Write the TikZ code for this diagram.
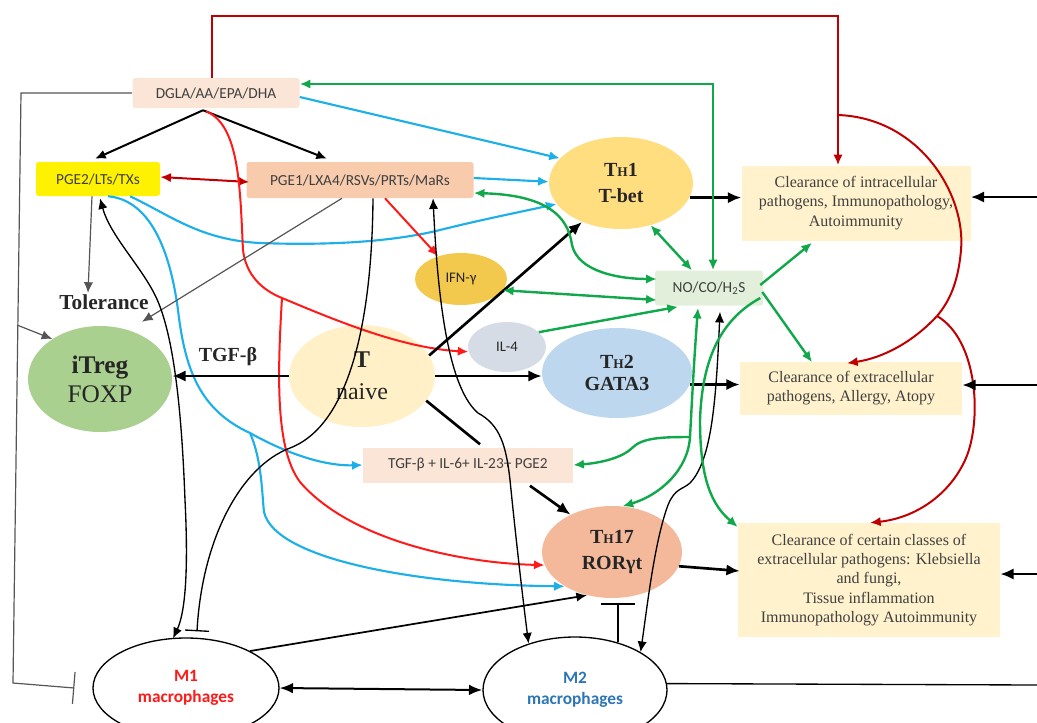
\documentclass[tikz,border=0pt]{standalone}
\usepackage{fontspec}
\setmainfont{Liberation Serif}
\setsansfont{Carlito}
\usetikzlibrary{arrows.meta,shapes.geometric,calc}
\definecolor{cpeach}{HTML}{FBE5D6}
\definecolor{csalmon}{HTML}{F8CBAD}
\definecolor{cgold}{HTML}{FFDE80}
\definecolor{cifn}{HTML}{F2C94C}
\definecolor{cno}{HTML}{E2EFDA}
\definecolor{citreg}{HTML}{A9D08E}
\definecolor{ctnaive}{HTML}{FFF0C8}
\definecolor{cil}{HTML}{D6DCE5}
\definecolor{cth2}{HTML}{BDD7EE}
\definecolor{cth17}{HTML}{F4B99B}
\definecolor{ccream}{HTML}{FFF2CC}
\definecolor{ctext}{HTML}{404040}
\definecolor{cdark}{HTML}{262626}
\definecolor{cblue}{HTML}{1DB0E8}
\definecolor{cgreen}{HTML}{10A84A}
\definecolor{cred}{HTML}{FF1A1A}
\definecolor{cdred}{HTML}{C00000}
\definecolor{cmtwo}{HTML}{2E75B6}
\definecolor{cgray}{HTML}{555555}
\tikzset{
 sz/.style args={#1/#2}{minimum width=#1*0.75pt, minimum height=#2*0.75pt},
 sbox/.style={rectangle, rounded corners=2pt, inner sep=0pt, font=\sffamily\fontsize{11.5}{13}\selectfont, text=ctext},
 cbox/.style={rectangle, inner sep=0pt, fill=ccream, align=center, font=\fontsize{12}{14.5}\selectfont, text=ctext},
 cell/.style={ellipse, inner sep=0pt, align=center, text=cdark},
 mac/.style={ellipse, draw=black, line width=1pt, fill=white, inner sep=0pt, align=center, font=\sffamily\bfseries\fontsize{13}{16}\selectfont},
 ahead/.style={-{Latex[length=8pt,width=7pt]}},
 dblhead/.style={{Latex[length=8pt,width=7pt]}-{Latex[length=8pt,width=7pt]}},
 kthick/.style={draw=black, line width=2pt, -{Latex[length=10pt,width=8.5pt]}},
 kmid/.style={draw=black, line width=1.5pt},
 kthin/.style={draw=black, line width=1pt},
 gline/.style={draw=cgray, line width=0.9pt},
 bl/.style={draw=cblue, line width=1.6pt},
 gr/.style={draw=cgreen, line width=1.8pt},
 rd/.style={draw=cred, line width=1.5pt},
 dr/.style={draw=cdred, line width=1.5pt},
}
\begin{document}
\begin{tikzpicture}[x=0.75pt,y=-0.75pt]
\useasboundingbox (0,0) rectangle (1037,722);
\clip (0,0) rectangle (1037,722);
% nodes
\node[sbox, fill=cpeach, sz=167/30] (dgla) at (216,93) {DGLA/AA/EPA/DHA};
\node[sbox, fill=yellow, sz=124/34] (pgetwo) at (98,179) {PGE2/LTs/TXs};
\node[sbox, fill=csalmon, sz=227/36] (pgeone) at (360,180) {PGE1/LXA4/RSVs/PRTs/MaRs};
\node[cell, fill=cgold, sz=144/92, font=\bfseries\fontsize{15}{19}\selectfont] (th1) at (621,183) {T{\fontsize{10}{12}\selectfont H}1\\T-bet};
\node[cbox, sz=229/75] (clearone) at (856,203) {Clearance of intracellular\\pathogens, Immunopathology,\\Autoimmunity};
\node[cell, fill=cifn, sz=92/52, font=\sffamily\fontsize{11}{13}\selectfont] (ifn) at (461,279) {IFN-γ};
\node[sbox, fill=cno, sz=108/35] (no) at (709,288) {NO/CO/H\textsubscript{2}S};
\node[font=\bfseries\fontsize{16}{18}\selectfont, text=cdark, inner sep=1pt] (tol) at (104,302) {Tolerance};
\node[cell, fill=citreg, sz=144/106, font=\fontsize{19}{22}\selectfont] (itreg) at (100,379) {\textbf{iTreg}\\FOXP};
\node[font=\bfseries\fontsize{15}{18}\selectfont, text=cdark, inner sep=1pt] (tgflab) at (228,357) {TGF-β};
\node[cell, fill=ctnaive, sz=146/102, font=\fontsize{18}{24}\selectfont] (tnaive) at (362,376) {\textbf{T}\\naive};
\node[cell, fill=cil, sz=78/50, font=\sffamily\fontsize{11}{13}\selectfont] (ilfour) at (507,347) {IL-4};
\node[cell, fill=cth2, sz=150/90, font=\bfseries\fontsize{15}{17}\selectfont] (th2) at (617,373) {T{\fontsize{10}{12}\selectfont H}2\\GATA3};
\node[cbox, sz=222/53] (cleartwo) at (851,388) {Clearance of extracellular\\pathogens, Allergy, Atopy};
\node[sbox, fill=cpeach, rounded corners=0pt, sz=210/35] (tgfbox) at (468,465) {TGF-β + IL-6+ IL-23+ PGE2};
\node[cell, fill=cth17, sz=140/92, font=\bfseries\fontsize{15}{19}\selectfont] (th17) at (612,552) {T{\fontsize{10}{12}\selectfont H}17\\RORγt};
\node[cbox, sz=262/114] (clearthree) at (869,580) {Clearance of certain classes of\\extracellular pathogens: Klebsiella\\and fungi,\\Tissue inflammation\\Immunopathology Autoimmunity};
\node[mac, sz=186/100, text=cred] (mone) at (186,688) {M1\\macrophages};
\node[mac, sz=184/106, text=cmtwo] (mtwo) at (575,690) {M2\\macrophages};
% coordinates
\coordinate (e1) at (1037,197);
\coordinate (e2) at (1037,385);
\coordinate (e3) at (1037,574);
\coordinate (e4) at (1037,685);
\coordinate (ra) at (838,115);
\coordinate (rb) at (937,316);
\coordinate (bb) at (250,433);
\coordinate (rdb) at (282,298);
\coordinate (gb) at (690,437);
\coordinate (gl) at (17,325);
% dark red
\draw[dr, ahead] ($(dgla.north)+(-4,0)$) -- ++(0,-62) -| ($(clearone.north)+(-18,0)$);
\draw[dr] (ra) .. controls (920,118) and (966,195) .. (961,250) .. controls (958,285) and (948,303) .. (rb);
\draw[dr, ahead] (rb) .. controls (912,343) and (882,358) .. ($(cleartwo.north)+(-4,2)$);
\draw[dr, ahead] (rb) .. controls (978,340) and (982,420) .. (966,458) .. controls (950,495) and (915,518) .. ($(clearthree.north)+(1,0)$);
% gray
\draw[gline, -{Bar[width=24pt]}] (dgla.west) -- (21,93) -- (13,683) -- ($(mone.west)+(-18,0)$);
\draw[gline, ahead] (gl) -- (itreg.140);
% black from DGLA
\draw[kmid, ahead] ($(dgla.south)+(-13,2)$) -- ($(pgetwo.north)+(-3,-3)$);
\draw[kmid, ahead] ($(dgla.south)+(-13,2)$) -- ($(pgeone.north)+(-33,-3)$);
% dark red double
\draw[dr, dblhead] ($(pgetwo.east)+(0,-2)$) -- ($(pgeone.west)+(3,2)$);
% blue
\draw[bl, ahead] ($(dgla.east)+(0,4)$) -- (th1.158);
\draw[bl, ahead] ($(pgeone.east)+(0,-2)$) -- (th1.179);
\draw[bl, ahead] ($(pgetwo.south)+(32,0)$) .. controls (170,215) and (200,240) .. (260,243) .. controls (340,246) and (400,240) .. (440,230) .. controls (480,220) and (520,212) .. (th1.198);
\draw[bl, ahead] ($(pgetwo.south)+(10,0)$) .. controls (150,200) and (170,250) .. (178,310) .. controls (185,370) and (200,410) .. (bb) .. controls (295,458) and (330,466) .. (tgfbox.west);
\draw[bl, ahead] (bb) .. controls (262,460) and (262,495) .. (264,512) .. controls (275,560) and (420,585) .. (th17.216);
% red
\draw[rd, ahead] ($(dgla.south)+(-10,3)$) .. controls (240,125) and (240,190) .. (243,250) .. controls (246,275) and (262,290) .. (rdb) .. controls (330,318) and (400,348) .. (ilfour.187);
\draw[rd, ahead] (rdb) .. controls (277,380) and (276,450) .. (300,482) .. controls (350,540) and (460,563) .. (th17.191);
\draw[rd, ahead] ($(pgeone.south)+(25,0)$) -- (ifn.135);
% black thin curves
\draw[kthin, dblhead] ($(pgeone.south)+(73,0)$) .. controls (437,280) and (445,385) .. (478,413) .. controls (500,425) and (506,445) .. (510,480) .. controls (516,540) and (523,600) .. (mtwo.135);
\draw[gline, ahead] ($(pgeone.south)+(-18,0)$) -- ($(itreg.north)+(42,-4)$);
\draw[kthin, -{Bar[width=18pt]}] ($(pgeone.south)+(13,0)$) .. controls (372,320) and (350,425) .. (290,448) .. controls (240,467) and (202,540) .. ($(mone.north)+(11,-6)$);
\draw[kthin, dblhead] ($(pgetwo.south)+(2,2)$) .. controls (110,235) and (140,265) .. (155,295) .. controls (175,335) and (182,420) .. (185,500) .. controls (189,580) and (184,615) .. ($(mone.north)+(-13,1)$);
\draw[gline, ahead] ($(pgetwo.south)+(-6,0)$) -- ($(tol.north)+(-16,0)$);
% thick black
\draw[kthick] (tnaive.west) -- (tnaive.west -| itreg.east);
\draw[kthick] (tnaive.17) -- (th1.225);
\draw[kthick] (tnaive.east) -- (tnaive.east -| th2.west);
\draw[kthick, -] (tnaive.-21) -- ($(tgfbox.north)+(12,-3)$);
\draw[kthick] ($(tgfbox.south)+(62,3)$) -- (th17.138);
\draw[kthick] (th1.-12) -- (th1.-12 -| clearone.west);
\draw[kthick] (th2.-9) -- (th2.-9 -| cleartwo.west);
\draw[kthick] (th17.-12) -- ($(clearthree.west)+(2,-9)$);
\draw[kthick] (e1) -- (e1 -| clearone.east);
\draw[kthick] (e2) -- (e2 -| cleartwo.east);
\draw[kthick] (e3) -- (e3 -| clearthree.east);
% macrophages
\draw[kthin] (mtwo.4) -- (e4);
\draw[draw=black, line width=1.5pt, {Latex[length=10pt,width=8pt]}-{Latex[length=10pt,width=8pt]}] (mone.east) -- (mtwo.west);
\draw[kthin, line width=1.3pt, ahead] (mone.30) -- (th17.240);
\draw[kthin, -{Bar[width=26pt]}] (mtwo.48) -- ++(0,-39);
\draw[kthin, dblhead] ($(no.south)+(11,6)$) .. controls (716,400) and (712,460) .. (690,483) .. controls (682,490) and (675,488) .. (668,505) .. controls (655,540) and (648,600) .. (mtwo.30);
% green
\draw[gr, dblhead] ($(dgla.east)+(0,-9)$) -| ($(no.north)+(4,0)$);
\draw[gr, dblhead] ($(pgeone.east)+(0,13)$) .. controls (545,195) and (568,215) .. (572,245) .. controls (578,272) and (620,279) .. ($(no.west)+(2,-9)$);
\draw[gr, dblhead] (th1.-55) -- ($(no.north)+(-17,0)$);
\draw[gr, dblhead] (ifn.-15) -- ($(no.west)+(2,12)$);
\draw[gr, ahead] (ilfour.25) -- ($(no.south)+(-31,1)$);
\draw[gr, ahead] ($(no.east)+(-3,-3)$) -- ($(clearone.south)+(-44,2)$);
\draw[gr, ahead] ($(no.east)+(-1,4)$) -- ($(cleartwo.north)+(-39,1)$);
\draw[gr, dblhead] ($(no.south)+(-11,2)$) .. controls (694,360) and (692,400) .. (gb) .. controls (688,470) and (660,495) .. (th17.77);
\draw[gr, ahead] (gb) .. controls (660,437) and (642,438) .. (632,448) .. controls (622,458) and (600,463) .. (tgfbox.east);
\draw[gr, ahead] ($(no.east)+(-3,10)$) .. controls (720,320) and (702,360) .. (700,420) .. controls (700,480) and (712,505) .. ($(clearthree.west)+(0,-53)$);
\end{tikzpicture}
\end{document}
